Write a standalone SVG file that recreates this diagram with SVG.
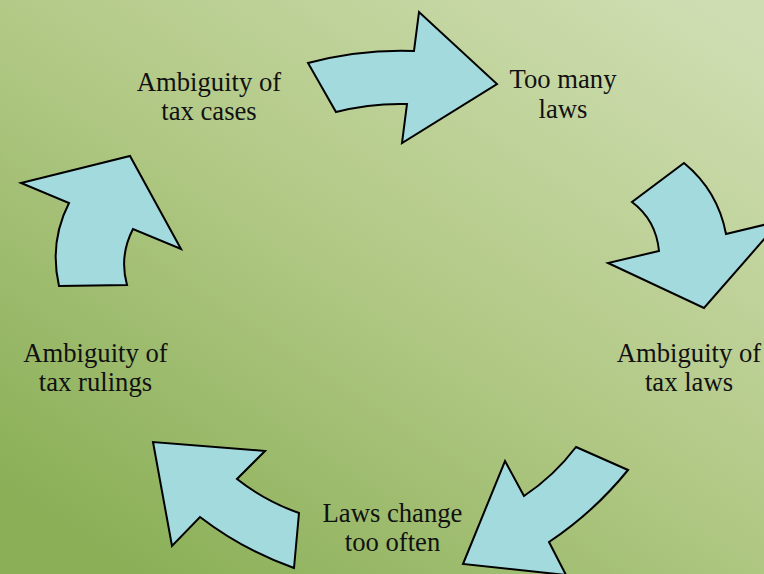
<svg xmlns="http://www.w3.org/2000/svg" width="764" height="574" viewBox="0 0 764 574">
  <defs>
    <linearGradient id="bg" gradientUnits="userSpaceOnUse" x1="640" y1="-40" x2="200" y2="620">
      <stop offset="0" stop-color="#cfdeb2"/>
      <stop offset="0.5" stop-color="#b2c986"/>
      <stop offset="1" stop-color="#8aaf57"/>
    </linearGradient>
    <style>
      .arrow { fill: #a2dadd; stroke: #000; stroke-width: 2; stroke-linejoin: miter; }
      .label { font-family: "Liberation Serif", "Times New Roman", serif; font-size: 26.67px; fill: #111; text-anchor: middle; }
    </style>
  </defs>

  <rect width="764" height="574" fill="url(#bg)"/>

  <!-- curved block arrows between the cycle steps -->
  <g id="connectors">
    <path class="arrow" d="M308,63 Q361,49 414,51 L419,12 L497,84 L402,143 L407,104 Q371,103 336,112 Z"/>
    <path class="arrow" d="M684,163 Q718,191 726,234 L780,221 L704,308 L608,263 L659,251 Q656,220 632,202 Z"/>
    <path class="arrow" d="M576,447 L628,470 Q594,512 549,542 L566,575 L463,564 L505,461 L524,496 Q554,476 576,447 Z"/>
    <path class="arrow" d="M299,513 L294,568 Q243,550 200,517 L172,546 L153,442 L265,451 L237,479 Q265,501 299,513 Z"/>
    <path class="arrow" d="M59,286 L127,285 Q119,256 133,229 L181,249 L130,156 L21,183 L69,203 Q49,242 59,286 Z"/>
  </g>

  <g id="too-many-laws">
    <text class="label" x="563" y="88">Too many</text>
    <text class="label" x="563" y="117.5">laws</text>
  </g>

  <g id="ambiguity-tax-laws">
    <text class="label" x="689" y="362">Ambiguity of</text>
    <text class="label" x="689" y="391">tax laws</text>
  </g>

  <g id="laws-change">
    <text class="label" x="392.5" y="521.5">Laws change</text>
    <text class="label" x="392.5" y="550.5">too often</text>
  </g>

  <g id="ambiguity-tax-rulings">
    <text class="label" x="95.5" y="361.5">Ambiguity of</text>
    <text class="label" x="95.5" y="390.5">tax rulings</text>
  </g>

  <g id="ambiguity-tax-cases">
    <text class="label" x="209" y="90.5">Ambiguity of</text>
    <text class="label" x="209" y="119.5">tax cases</text>
  </g>
</svg>
